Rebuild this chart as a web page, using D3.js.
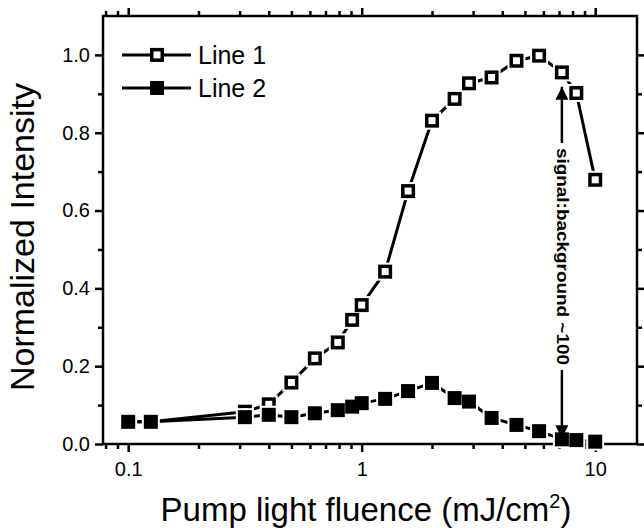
<!DOCTYPE html>
<html><head><meta charset="utf-8">
<script src="https://cdn.jsdelivr.net/npm/d3@7"></script>
<style>body{margin:0;background:#fff}svg{display:block}text{font-family:"Liberation Sans",Arial,Helvetica,sans-serif}</style>
</head><body>
<script>
// ---- data ----
const fluence = [0.1, 0.125, 0.316, 0.4, 0.5, 0.63, 0.79, 0.91, 1.0, 1.26, 1.58, 2.0, 2.5, 2.88, 3.6, 4.6, 5.75, 7.2, 8.3, 10];
const line1 = [0.057, 0.057, 0.083, 0.102, 0.158, 0.22, 0.261, 0.319, 0.357, 0.443, 0.65, 0.831, 0.887, 0.927, 0.942, 0.985, 0.998, 0.955, 0.902, 0.679];
const line2 = [0.057, 0.057, 0.069, 0.075, 0.069, 0.079, 0.087, 0.096, 0.105, 0.116, 0.136, 0.157, 0.118, 0.109, 0.067, 0.049, 0.033, 0.012, 0.01, 0.006];
const seriesNames = ["Line 1", "Line 2"];
const xMajorTicks = [0.1, 1, 10];
const xMinorTicks = [0.08, 0.09, 0.2, 0.3, 0.4, 0.5, 0.6, 0.7, 0.8, 0.9, 2, 3, 4, 5, 6, 7, 8, 9];
const yMajorTicks = [0, 0.2, 0.4, 0.6, 0.8, 1.0];
const yMinorTicks = [0.1, 0.3, 0.5, 0.7, 0.9];
const annotX = 7.2, annotTop = 0.918, annotBottom = 0.015, annotTextY = 0.482;
const annotText = "signal:background ~100";

const W = 644, H = 528;
const svg = d3.select("body").append("svg").attr("width", W).attr("height", H);
const x = d3.scaleLog().domain([0.078, 15.1]).range([103, 637]);
const y = d3.scaleLinear().domain([0, 1.1]).range([444, 16]);

const axisW = 2.5;
function styleAxis(g) {
  g.select(".domain").remove();
  g.selectAll(".tick line").attr("stroke", "#000").attr("stroke-width", axisW);
  g.selectAll(".tick text").attr("fill", "#000").style("font-size", "20px");
}
const fmtX = d => d3.format("")(d);
// bottom
svg.append("g").attr("transform", `translate(0,${y(0)})`)
  .call(d3.axisBottom(x).tickValues(xMajorTicks).tickSize(8).tickPadding(10).tickFormat(fmtX)).call(styleAxis);
svg.append("g").attr("transform", `translate(0,${y(0)})`)
  .call(d3.axisBottom(x).tickValues(xMinorTicks).tickSize(5).tickFormat("")).call(styleAxis);
// top
svg.append("g").attr("transform", `translate(0,${y(1.1)})`)
  .call(d3.axisTop(x).tickValues(xMajorTicks).tickSize(8).tickFormat("")).call(styleAxis);
svg.append("g").attr("transform", `translate(0,${y(1.1)})`)
  .call(d3.axisTop(x).tickValues(xMinorTicks).tickSize(5).tickFormat("")).call(styleAxis);
// left
svg.append("g").attr("transform", `translate(${x(0.078)},0)`)
  .call(d3.axisLeft(y).tickValues(yMajorTicks).tickSize(8).tickPadding(5).tickFormat(d3.format(".1f"))).call(styleAxis);
svg.append("g").attr("transform", `translate(${x(0.078)},0)`)
  .call(d3.axisLeft(y).tickValues(yMinorTicks).tickSize(5).tickFormat("")).call(styleAxis);
// right
svg.append("g").attr("transform", `translate(${x(15.1)},0)`)
  .call(d3.axisRight(y).tickValues(yMajorTicks).tickSize(8).tickFormat("")).call(styleAxis);
svg.append("g").attr("transform", `translate(${x(15.1)},0)`)
  .call(d3.axisRight(y).tickValues(yMinorTicks).tickSize(5).tickFormat("")).call(styleAxis);

// frame
svg.append("rect").attr("x", x(0.078)).attr("y", y(1.1))
  .attr("width", x(15.1) - x(0.078)).attr("height", y(0) - y(1.1))
  .attr("fill", "none").attr("stroke", "#000").attr("stroke-width", axisW);

// axis titles
svg.append("text").attr("x", 366).attr("y", 521).attr("text-anchor", "middle")
  .style("font-size", "33px").html('Pump light fluence (mJ/cm<tspan dy="-13" font-size="20px">2</tspan><tspan dy="13">)</tspan>');
svg.append("text").attr("transform", `translate(34,${(y(0)+y(1.1))/2 + 7}) rotate(-90)`)
  .attr("text-anchor", "middle").style("font-size", "34px").text("Normalized Intensity");

// series
const pts1 = fluence.map((f, i) => [f, line1[i]]);
const pts2 = fluence.map((f, i) => [f, line2[i]]);
const lineGen = d3.line().x(d => x(d[0])).y(d => y(d[1]));
const MS = 14;
function drawSeries(pts, filled) {
  svg.append("path").datum(pts).attr("d", lineGen).attr("fill", "none")
    .attr("stroke", "#000").attr("stroke-width", 3).attr("stroke-linejoin", "round");
  svg.append("g").selectAll("rect.halo").data(pts).join("rect")
    .attr("x", d => x(d[0]) - MS/2 - 2).attr("y", d => y(d[1]) - MS/2 - 2)
    .attr("width", MS + 4).attr("height", MS + 4).attr("fill", "#fff");
  svg.append("g").selectAll("rect.m").data(pts).join("rect")
    .attr("x", d => x(d[0]) - (MS-3.5)/2).attr("y", d => y(d[1]) - (MS-3.5)/2)
    .attr("width", MS - 3.5).attr("height", MS - 3.5)
    .attr("fill", filled ? "#000" : "#fff").attr("stroke", "#000").attr("stroke-width", 3.5);
}
drawSeries(pts1, false);
drawSeries(pts2, true);

// legend
const legY = [y(1.0), y(0.915)];
seriesNames.forEach((name, i) => {
  const g = svg.append("g");
  g.append("line").attr("x1", 122).attr("x2", 191).attr("y1", legY[i]).attr("y2", legY[i])
    .attr("stroke", "#000").attr("stroke-width", 3);
  g.append("rect").attr("x", 157 - (MS-3.5)/2).attr("y", legY[i] - (MS-3.5)/2)
    .attr("width", MS - 3.5).attr("height", MS - 3.5)
    .attr("fill", i === 0 ? "#fff" : "#000").attr("stroke", "#000").attr("stroke-width", 3.5);
  g.append("text").attr("x", 198).attr("y", legY[i] + 9).style("font-size", "25px").text(name);
});

// annotation: double arrow with rotated text
const ax = x(annotX);
const textLen = 217, tCenter = y(annotTextY);
svg.append("defs").append("marker").attr("id", "ah").attr("viewBox", "0 0 10 10")
  .attr("refX", 10).attr("refY", 5).attr("markerWidth", 13).attr("markerHeight", 13)
  .attr("markerUnits", "userSpaceOnUse").attr("orient", "auto")
  .append("path").attr("d", "M0,0 L10,5 L0,10 Z").attr("fill", "#000");
svg.append("line").attr("x1", ax).attr("x2", ax).attr("y1", tCenter - textLen/2 - 5).attr("y2", y(annotTop))
  .attr("stroke", "#000").attr("stroke-width", 2.5).attr("marker-end", "url(#ah)");
svg.append("line").attr("x1", ax).attr("x2", ax).attr("y1", tCenter + textLen/2 + 5).attr("y2", y(annotBottom))
  .attr("stroke", "#000").attr("stroke-width", 2.5).attr("marker-end", "url(#ah)");
svg.append("text").attr("transform", `translate(${ax - 5},${tCenter}) rotate(90)`)
  .attr("text-anchor", "middle").style("font-size", "17px").style("font-weight", "bold")
  .attr("textLength", textLen).attr("lengthAdjust", "spacingAndGlyphs").text(annotText);
</script>
</body></html>
